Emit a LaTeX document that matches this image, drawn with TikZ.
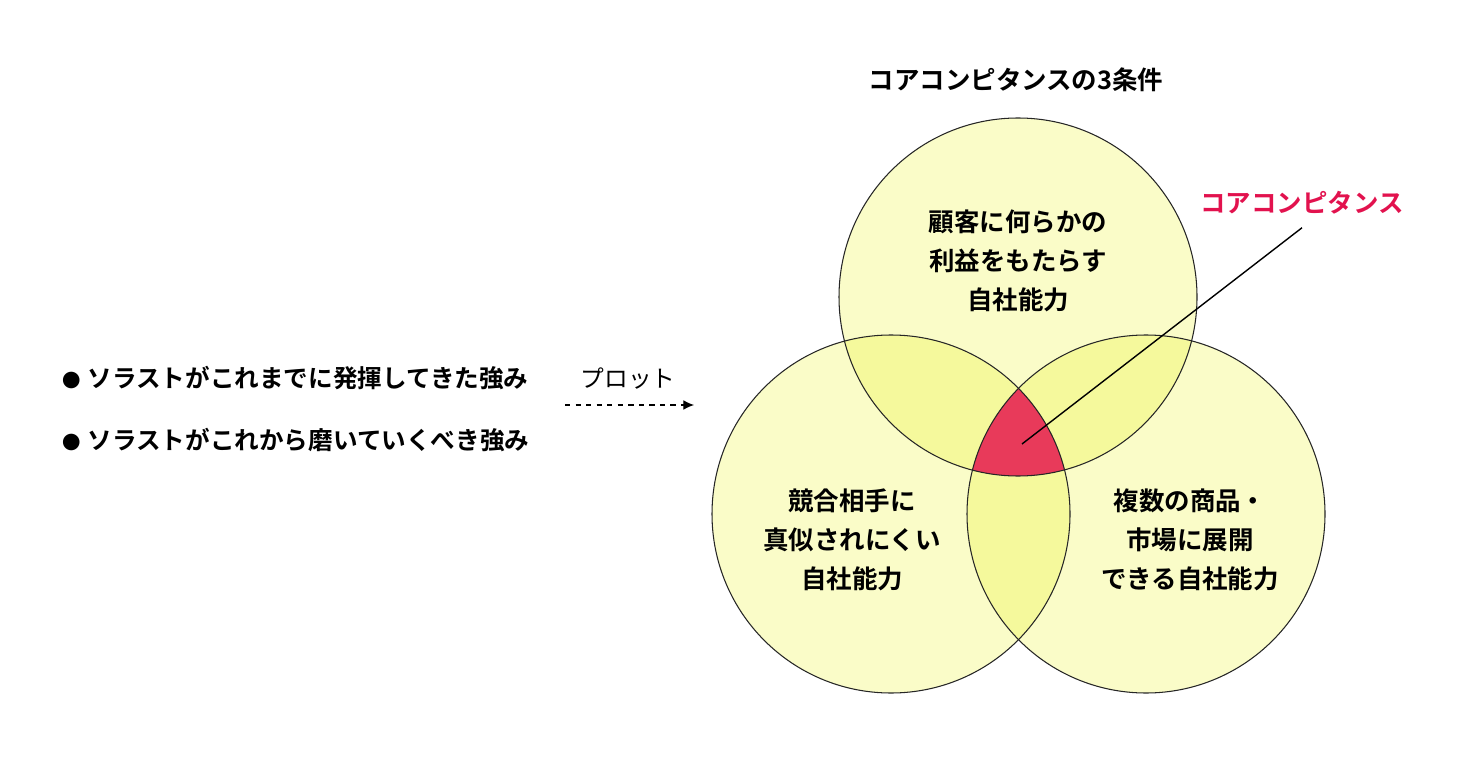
\documentclass[tikz,border=0pt]{standalone}
\usepackage{fontspec}
\newfontfamily\jpfont[BoldFont={Noto Sans CJK JP Bold}]{Noto Sans CJK JP}
\usetikzlibrary{arrows.meta}
\definecolor{venn1}{HTML}{FAFCC8}
\definecolor{venn2}{HTML}{F5F99C}
\definecolor{venn3}{HTML}{E83A5A}
\definecolor{corered}{HTML}{E2124E}
\newcommand{\circr}{179}
\newcommand{\blt}{{\fontsize{10.5}{10.5}\selectfont ●}\hspace{4pt}}

\begin{document}
\begin{tikzpicture}[x=0.02cm,y=-0.02cm]
                \useasboundingbox (0,0) rectangle (1480,763);
                \coordinate (ct) at (1018,297);
                \coordinate (cl) at (891,514);
                \coordinate (cr) at (1146,514);

                % fills
                \begin{scope}
                    \fill[venn1] (ct) circle[radius=\circr];
                    \fill[venn1] (cl) circle[radius=\circr];
                    \fill[venn1] (cr) circle[radius=\circr];
                \end{scope}
                \begin{scope}
                    \clip (ct) circle[radius=\circr];
                    \fill[venn2] (cl) circle[radius=\circr];
                    \fill[venn2] (cr) circle[radius=\circr];
                \end{scope}
                \begin{scope}
                    \clip (cl) circle[radius=\circr];
                    \fill[venn2] (cr) circle[radius=\circr];
                \end{scope}
                \begin{scope}
                    \clip (ct) circle[radius=\circr];
                    \clip (cl) circle[radius=\circr];
                    \fill[venn3] (cr) circle[radius=\circr];
                \end{scope}
                \draw[black!85,line width=0.6pt] (ct) circle[radius=\circr];
                \draw[black!85,line width=0.6pt] (cl) circle[radius=\circr];
                \draw[black!85,line width=0.6pt] (cr) circle[radius=\circr];

                \begin{scope}[every node/.style={font=\jpfont\bfseries\fontsize{14.5}{22}\selectfont,align=center}]
                    \node (title) at (1016,80) {コアコンピタンスの3条件};
                    \node (top) at (1018,261) {顧客に何らかの\\利益をもたらす\\自社能力};
                    \node (left) at (852,540) {競合相手に\\真似されにくい\\自社能力};
                    \node (right) at (1190,540) {複数の商品・\\市場に展開\\できる自社能力};
                    \node[text=corered] (core) at (1302,203) {コアコンピタンス};
                \end{scope}
                \begin{scope}[every node/.style={font=\jpfont\bfseries\fontsize{14}{20}\selectfont,anchor=west}]
                    \node (str1) at (56,378) {\blt ソラストがこれまでに発揮してきた強み};
                    \node (str2) at (56,440) {\blt ソラストがこれから磨いていくべき強み};
                \end{scope}

                \coordinate (corept) at (1022,444);
                \draw[black,line width=0.8pt] (corept) -- ([yshift=-4pt]core.south);

                \node[font=\jpfont\fontsize{13.5}{16}\selectfont] (plot) at (628,379) {プロット};
                \coordinate (plotL) at (565,405);
                \coordinate (plotR) at (694,405);
                \draw[dashed,line width=0.6pt,-{Latex[length=6pt,width=5.5pt]}] (plotL) -- (plotR);
            \end{tikzpicture}
\end{document}
